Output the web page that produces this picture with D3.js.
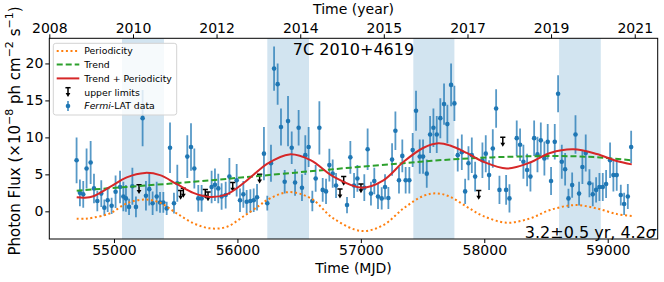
<!DOCTYPE html>
<html>
<head>
<meta charset="utf-8">
<script src="https://cdn.jsdelivr.net/npm/d3@7"></script>
<style>
  body { margin: 0; background: #fff; }
  svg text { font-family: "DejaVu Sans", sans-serif; fill: #000; }
</style>
</head>
<body>
<svg id="chart" width="664" height="282"></svg>
<script>
// Fermi-LAT monthly fluxes (x1e-8 ph cm^-2 s^-1)
const fluxMJD = [54697, 54724, 54751, 54778, 54811, 54838, 54865, 54897, 54922, 54949,
  54981, 55013, 55049, 55076, 55097, 55122, 55149, 55178, 55232, 55259,
  55286, 55313, 55346, 55373, 55400, 55427, 55454, 55486, 55513, 55594,
  55624, 55651, 55683, 55710, 55791, 55818, 55845, 55872, 55905, 55935,
  55994, 56021, 56048, 56075, 56105, 56132, 56159, 56215, 56242, 56272,
  56297, 56326, 56353, 56383, 56410, 56440, 56467, 56496, 56523, 56550,
  56577, 56607, 56634, 56664, 56691, 56718, 56745, 56772, 56799, 56888,
  56915, 56945, 56972, 57028, 57055, 57082, 57109, 57139, 57169, 57196,
  57223, 57253, 57280, 57309, 57336, 57363, 57393, 57420, 57447, 57477,
  57504, 57534, 57561, 57588, 57615, 57644, 57674, 57701, 57731, 57758,
  57785, 57818, 57845, 57872, 57899, 57926, 57985, 58012, 58039, 58069,
  58096, 58123, 58177, 58204, 58263, 58290, 58317, 58347, 58374, 58404,
  58431, 58458, 58487, 58514, 58541, 58571, 58598, 58628, 58655, 58682,
  58712, 58739, 58768, 58795, 58822, 58852, 58879, 58906, 58933, 58960,
  58987, 59019, 59046, 59073, 59106, 59133, 59163, 59190];
const fluxVal = [6.9, 2.5, 2.3, 5.8, 6.6, 3.1, 1.4, 2.4, 0.5, 1.5,
  0.75, 2.65, 3.3, 2.0, 1.75, 0.6, 3.4, 0.6, 12.6, 2.1,
  3.0, 1.1, 2.0, 1.2, 1.2, 0.4, 8.6, 1.1, 3.8, 7.4,
  8.7, 5.8, 1.75, 1.75, 3.3, 3.6, 3.1, 2.0, 2.2, 4.7,
  4.2, 1.5, 2.3, 1.3, 1.4, 1.5, 1.9, 7.8, 1.1, 6.5,
  19.3, 17.2, 11.4, 4.0, 12.2, 8.6, 3.9, 11.3, 3.2, 7.6,
  8.7, 1.4, 4.45, 11.3, 2.9, 2.7, 6.25, 5.1, 3.5, 0.85,
  7.3, 3.5, 4.45, 3.2, 8.4, 2.4, 4.1, 2.0, 1.75, 3.3,
  1.8, 7.0, 10.9, 4.2, 7.5, 4.2, 4.2, 8.3, 13.6, 7.4,
  7.4, 5.1, 10.4, 11.3, 10.4, 12.6, 14.5, 11.8, 17.1, 14.6,
  7.6, 8.0, 2.7, 6.5, 7.6, 4.7, 6.9, 7.8, 4.9, 8.5,
  13.9, 2.9, 2.9, 1.75, 9.9, 9.0, 6.7, 5.6, 4.7, 9.9,
  7.7, 9.6, 7.15, 9.4, 4.1, 9.4, 15.9, 6.7, 5.7, 1.75,
  3.55, 10.4, 2.4, 6.0, 7.9, 3.8, 2.3, 2.9, 3.3, 3.3,
  3.7, 6.9, 4.9, 4.9, 2.2, 1.0, 2.0, 8.7];
const fluxErr = [3.1, 1.8, 1.8, 2.7, 2.9, 2.0, 1.4, 1.8, 1.1, 1.6,
  1.1, 2.2, 2.2, 2.0, 1.8, 1.1, 2.5, 1.4, 3.8, 2.0,
  2.2, 1.6, 2.0, 1.4, 1.4, 0.9, 3.4, 1.4, 2.5, 2.9,
  3.2, 2.7, 1.8, 1.8, 2.2, 2.2, 2.0, 1.8, 1.8, 2.5,
  2.2, 1.6, 1.8, 1.6, 1.6, 1.6, 1.8, 3.6, 1.0, 2.5,
  3.0, 2.8, 2.5, 1.6, 3.4, 2.2, 1.8, 2.4, 1.8, 2.7,
  2.7, 1.4, 1.8, 3.6, 1.6, 1.7, 2.2, 1.9, 1.7, 1.1,
  2.2, 1.7, 1.8, 1.8, 2.8, 1.6, 1.8, 1.7, 1.5, 1.7,
  1.5, 2.2, 2.6, 1.8, 2.2, 1.8, 1.8, 2.3, 2.7, 2.3,
  2.3, 1.9, 2.5, 2.6, 2.5, 2.7, 2.8, 2.6, 2.9, 2.4,
  2.2, 2.4, 1.7, 2.3, 2.4, 2.0, 2.4, 2.5, 2.0, 2.6,
  2.6, 1.9, 2.0, 1.9, 2.4, 2.2, 2.3, 2.2, 2.0, 2.4,
  2.4, 2.4, 2.3, 2.4, 1.9, 2.4, 2.5, 2.3, 2.2, 1.3,
  1.7, 2.6, 1.6, 2.3, 2.5, 1.9, 1.6, 1.7, 1.9, 1.9,
  1.9, 2.4, 2.2, 2.1, 1.4, 1.5, 1.7, 2.2];

// upper limits
const ulMJD = [55203, 55540, 55562, 55740, 55762, 55962, 56180, 56831, 56861, 57001, 57955, 58150];
const ulVal = [3.0, 2.2, 2.5, 2.35, 2.0, 3.3, 4.4, 2.4, 4.1, 3.1, 2.2, 9.4];

// model curves
const perMJD = [54698, 54765, 54832, 54968, 55103, 55251, 55373, 55508, 55643, 55778,
  55913, 56048, 56183, 56237, 56412, 56596, 56777, 57007, 57183, 57346,
  57508, 57616, 57723, 57858, 57993, 58182, 58371, 58533, 58733, 58911,
  59073, 59195];
const perVal = [-1.0, -1.0, -0.85, -0.27, 1.08, 1.6, 1.16, -0.27, -1.6, -2.3,
  -2.1, -0.7, 0.85, 1.5, 2.6, 1.75, -0.95, -2.66, -1.85, 0.4,
  2.1, 2.43, 1.97, 0.62, -0.64, -1.54, -0.95, 0.18, 0.85, 0.4,
  -0.36, -0.64];
const trendMJD = [54698, 55103, 55643, 56183, 56777, 57346, 57804, 58371, 58722, 58960, 59195];
const trendVal = [2.8, 3.3, 4.0, 4.8, 5.7, 6.5, 7.1, 7.45, 7.45, 7.25, 6.9];
const sumMJD = [54698, 54765, 54832, 54968, 55103, 55251, 55373, 55508, 55643, 55778,
  55913, 56048, 56183, 56237, 56421, 56596, 56777, 57007, 57183, 57346,
  57508, 57628, 57723, 57858, 57993, 58182, 58371, 58533, 58722, 58911,
  59073, 59195];
const sumVal = [1.9, 1.85, 2.05, 3.3, 4.6, 5.2, 4.9, 3.7, 2.5, 1.95,
  2.3, 3.8, 5.7, 6.4, 7.7, 6.9, 4.7, 3.2, 4.2, 6.7,
  8.6, 9.2, 8.9, 7.9, 6.7, 5.8, 6.6, 7.9, 8.4, 7.75,
  6.8, 6.35];

// shaded high-state windows
const bandStart = [55065, 56242, 57425, 58606];
const bandEnd = [55405, 56580, 57758, 58944];

const mjdTicks = [55000, 56000, 57000, 58000, 59000];
const fluxTicks = [0, 5, 10, 15, 20];
const yearTickMJD = [54476, 55154, 55831, 56509, 57186, 57864, 58541, 59219];
const yearTickLabels = ["2008", "2010", "2012", "2014", "2015", "2017", "2019", "2021"];

const plotLeft = 49.3, plotRight = 657.7, plotTop = 38.3, plotBottom = 239;
const blue = "#1f77b4";

const svg = d3.select("#chart");
const x = d3.scaleLinear().domain([54476, 59405]).range([plotLeft, plotRight]);
const y = d3.scaleLinear().domain([-3.74, 23.4]).range([plotBottom, plotTop]);

svg.append("clipPath").attr("id", "plotclip")
  .append("rect").attr("x", plotLeft).attr("y", plotTop)
  .attr("width", plotRight - plotLeft).attr("height", plotBottom - plotTop);

const plot = svg.append("g").attr("clip-path", "url(#plotclip)");

plot.selectAll("rect.band")
  .data(bandStart)
  .join("rect")
    .attr("class", "band")
    .attr("x", d => x(d))
    .attr("y", plotTop)
    .attr("width", (d, i) => x(bandEnd[i]) - x(d))
    .attr("height", plotBottom - plotTop)
    .attr("fill", blue)
    .attr("fill-opacity", 0.2);

const points = fluxMJD.map((t, i) => ({t: t, f: fluxVal[i], e: fluxErr[i]}));

plot.selectAll("line.err")
  .data(points)
  .join("line")
    .attr("class", "err")
    .attr("x1", d => x(d.t)).attr("x2", d => x(d.t))
    .attr("y1", d => y(d.f - d.e)).attr("y2", d => y(d.f + d.e))
    .attr("stroke", blue)
    .attr("stroke-opacity", 0.75)
    .attr("stroke-width", 1.8);

plot.selectAll("circle.pt")
  .data(points)
  .join("circle")
    .attr("class", "pt")
    .attr("cx", d => x(d.t))
    .attr("cy", d => y(d.f))
    .attr("r", 2.3)
    .attr("fill", blue);

// upper limit glyph: cap, stem, arrow head pointing down
function upperLimit(g, cx, cy) {
  g.append("line").attr("x1", cx - 2.6).attr("x2", cx + 2.6)
    .attr("y1", cy - 4.5).attr("y2", cy - 4.5)
    .attr("stroke", "#000").attr("stroke-width", 1.5);
  g.append("line").attr("x1", cx).attr("x2", cx)
    .attr("y1", cy - 4.5).attr("y2", cy + 1.5)
    .attr("stroke", "#000").attr("stroke-width", 1.5);
  g.append("path")
    .attr("d", `M${cx - 2.4},${cy + 0.8}L${cx + 2.4},${cy + 0.8}L${cx},${cy + 4.8}Z`)
    .attr("fill", "#000");
}
const ulGroup = plot.append("g");
ulMJD.forEach((t, i) => upperLimit(ulGroup, x(t), y(ulVal[i])));

const line = d3.line().curve(d3.curveCatmullRom.alpha(0.5));

plot.append("path")
  .attr("d", line(perMJD.map((t, i) => [x(t), y(perVal[i])])))
  .attr("fill", "none").attr("stroke", "#ff7f0e")
  .attr("stroke-width", 2).attr("stroke-dasharray", "2,2.6");

plot.append("path")
  .attr("d", line(trendMJD.map((t, i) => [x(t), y(trendVal[i])])))
  .attr("fill", "none").attr("stroke", "#2ca02c")
  .attr("stroke-width", 2).attr("stroke-dasharray", "6,3");

plot.append("path")
  .attr("d", line(sumMJD.map((t, i) => [x(t), y(sumVal[i])])))
  .attr("fill", "none").attr("stroke", "#d62728")
  .attr("stroke-width", 2);

// axes
const axisBottom = svg.append("g")
  .attr("transform", `translate(0,${plotBottom})`)
  .call(d3.axisBottom(x).tickValues(mjdTicks).tickFormat(d3.format("d")).tickSize(4).tickPadding(2));
const axisLeft = svg.append("g")
  .attr("transform", `translate(${plotLeft},0)`)
  .call(d3.axisLeft(y).tickValues(fluxTicks).tickSize(4).tickPadding(2));
const axisTop = svg.append("g")
  .attr("transform", `translate(0,${plotTop})`)
  .call(d3.axisTop(x).tickValues(yearTickMJD).tickFormat((d, i) => yearTickLabels[i]).tickSize(4).tickPadding(1.5));

[axisBottom, axisLeft, axisTop].forEach(a => {
  a.select(".domain").remove();
  a.selectAll("text").style("font-size", "14px").style("font-family", "DejaVu Sans");
  a.selectAll("line").attr("stroke-width", 1);
});

svg.append("rect")
  .attr("x", plotLeft).attr("y", plotTop)
  .attr("width", plotRight - plotLeft).attr("height", plotBottom - plotTop)
  .attr("fill", "none").attr("stroke", "#000").attr("stroke-width", 1);

// labels
svg.append("text").attr("x", (plotLeft + plotRight) / 2).attr("y", 273)
  .attr("text-anchor", "middle").style("font-size", "14px").text("Time (MJD)");
svg.append("text").attr("x", (plotLeft + plotRight) / 2).attr("y", 14)
  .attr("text-anchor", "middle").style("font-size", "14px").text("Time (year)");

const yl = svg.append("text")
  .attr("transform", "translate(19.5,131) rotate(-90)")
  .attr("text-anchor", "middle").style("font-size", "15px");
yl.append("tspan").text("Photon Flux  (\u00d710");
yl.append("tspan").attr("dy", -6.5).style("font-size", "11px").text("\u22128");
yl.append("tspan").attr("dy", 6.5).text(" ph cm");
yl.append("tspan").attr("dy", -6.5).style("font-size", "11px").text("\u22122");
yl.append("tspan").attr("dy", 6.5).text(" s");
yl.append("tspan").attr("dy", -6.5).style("font-size", "11px").text("\u22121");
yl.append("tspan").attr("dy", 6.5).text(")");

svg.append("text").attr("x", (plotLeft + plotRight) / 2).attr("y", 55)
  .attr("text-anchor", "middle").style("font-size", "16px").text("7C 2010+4619");

const ann = svg.append("text").attr("x", 656).attr("y", 237.5)
  .attr("text-anchor", "end").style("font-size", "16px");
ann.append("tspan").text("3.2\u00b10.5 yr, 4.2");
ann.append("tspan").style("font-style", "italic").text("\u03c3");

// legend
const lg = svg.append("g");
lg.append("rect").attr("x", 53.3).attr("y", 43.3).attr("width", 123.4).attr("height", 71.7)
  .attr("rx", 2.5).attr("fill", "#fff").attr("fill-opacity", 0.8)
  .attr("stroke", "#d3d3d3").attr("stroke-width", 1);

const rowY = [51, 64.6, 78.4, 92.2, 106];
const hx0 = 56.7, hx1 = 79.3, hxm = 68;
lg.append("line").attr("x1", hx0).attr("x2", hx1).attr("y1", rowY[0]).attr("y2", rowY[0])
  .attr("stroke", "#ff7f0e").attr("stroke-width", 2).attr("stroke-dasharray", "2,2.6");
lg.append("line").attr("x1", hx0).attr("x2", hx1).attr("y1", rowY[1]).attr("y2", rowY[1])
  .attr("stroke", "#2ca02c").attr("stroke-width", 2).attr("stroke-dasharray", "6,3");
lg.append("line").attr("x1", hx0).attr("x2", hx1).attr("y1", rowY[2]).attr("y2", rowY[2])
  .attr("stroke", "#d62728").attr("stroke-width", 2);
upperLimit(lg, hxm, rowY[3]);
lg.append("line").attr("x1", hxm).attr("x2", hxm).attr("y1", rowY[4] - 5).attr("y2", rowY[4] + 5)
  .attr("stroke", blue).attr("stroke-opacity", 0.75).attr("stroke-width", 1.8);
lg.append("circle").attr("cx", hxm).attr("cy", rowY[4]).attr("r", 2.3).attr("fill", blue);

const legendLabels = ["Periodicity", "Trend", "Trend + Periodicity", "upper limits"];
legendLabels.forEach((s, i) => {
  lg.append("text").attr("x", 84.3).attr("y", rowY[i] + 3.4).style("font-size", "9.3px").text(s);
});
const fl = lg.append("text").attr("x", 84.3).attr("y", rowY[4] + 3.4).style("font-size", "9.3px");
fl.append("tspan").style("font-style", "italic").text("Fermi");
fl.append("tspan").text("-LAT data");
</script>
</body>
</html>
